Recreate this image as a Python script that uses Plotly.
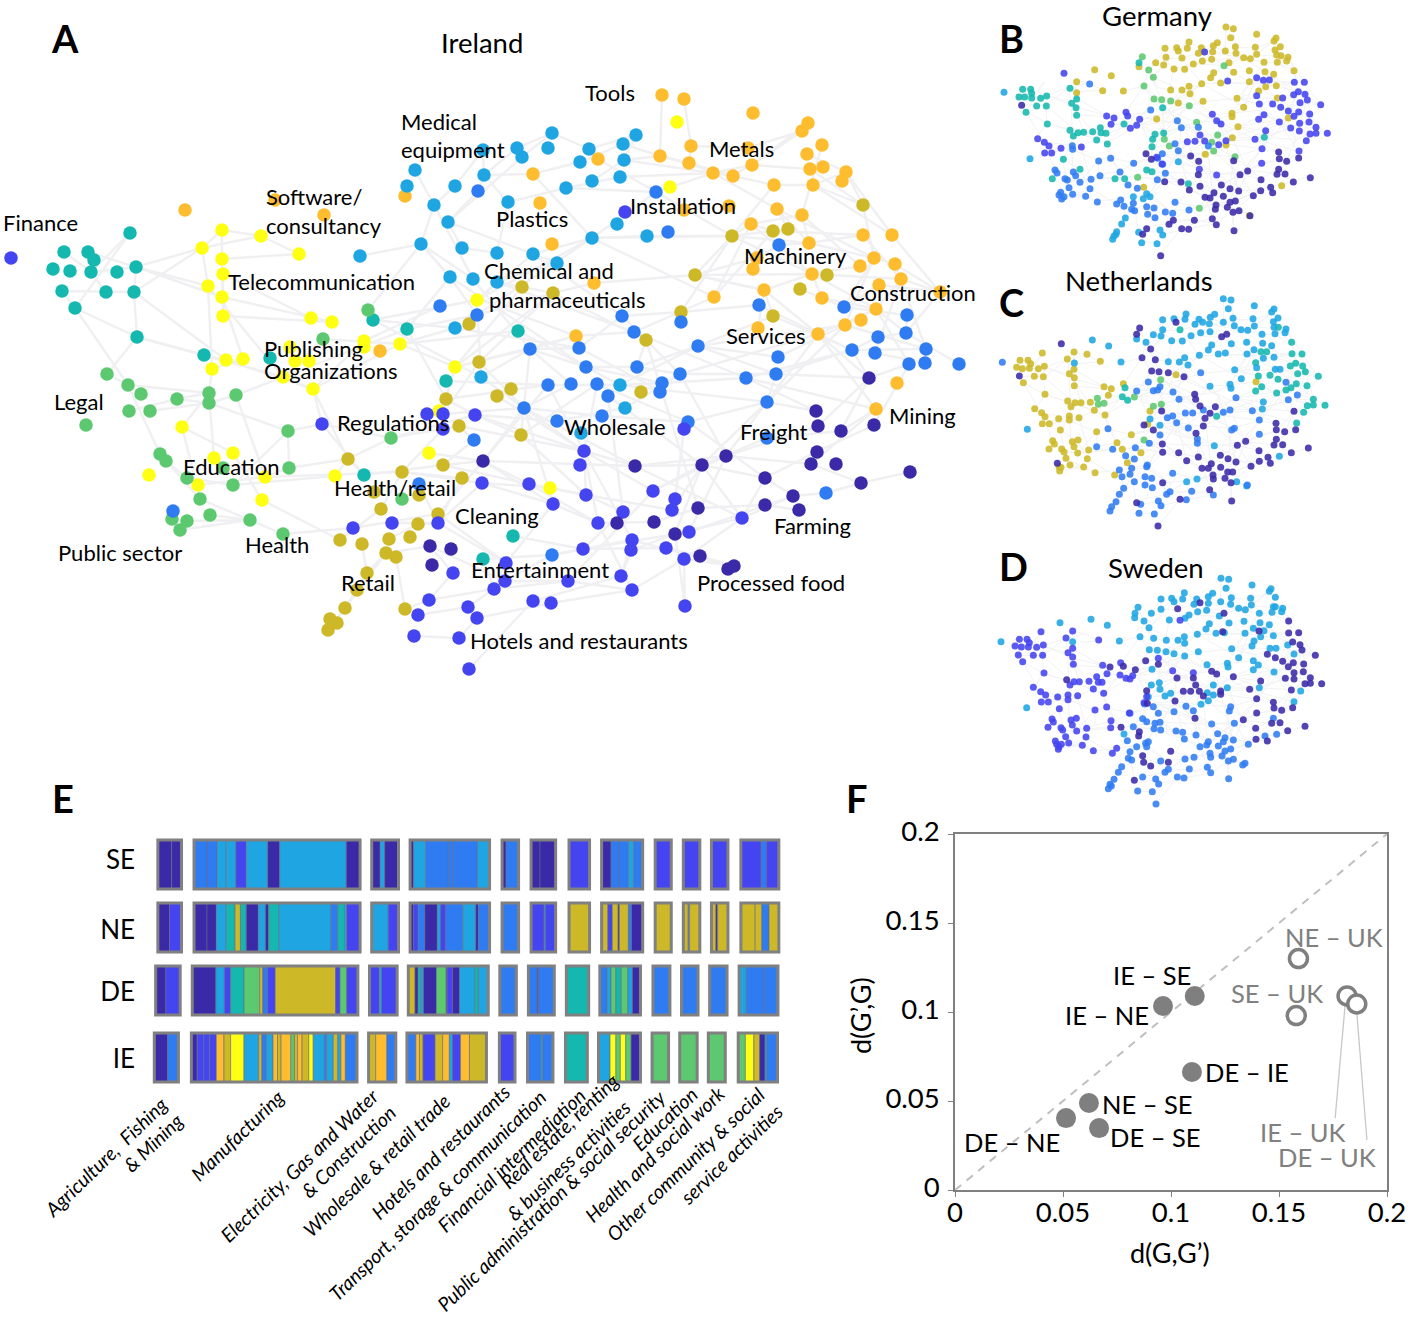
import plotly.graph_objects as go

W, H = 1411, 1323
FONT = "Lato"
COLORS = dict(d="#3A2AA8", i="#4444F0", b="#2F7CF2", s="#1FA6E2", t="#14B8AE",
              g="#5CC86F", m="#CDB828", o="#FDBD2F", y="#FFFF14")

# ---------- Panel A (Ireland): nodes by community
A_TEAL = [(130,233),(64,252),(88,252),(94,260),(53,269),(70,271),(91,272),(117,272),(136,267),(62,291),(106,292),(134,292),(75,308),(137,337),(204,355),(270,358),(373,320),(407,329),(446,381),(518,331),(364,475),(483,559),(513,536)]
A_ORANGE = [(185,210),(275,200),(324,215),(405,196),(380,351),(662,95),(684,99),(753,113),(808,123),(802,131),(822,145),(691,146),(748,148),(660,156),(689,163),(752,165),(807,154),(810,169),(823,167),(713,173),(733,176),(846,172),(842,181),(813,185),(774,185),(598,159),(533,174),(540,203),(552,244),(684,210),(729,206),(777,209),(802,215),(751,224),(809,243),(863,235),(892,235),(874,258),(860,266),(895,264),(753,269),(757,258),(812,274),(901,279),(879,285),(940,292),(764,290),(822,298),(714,297),(594,283),(876,309),(861,320),(845,325),(818,334),(758,328),(576,336),(897,383),(876,409)]
A_YELLOW = [(222,230),(202,248),(261,236),(299,254),(222,259),(223,274),(208,286),(222,297),(223,316),(311,318),(332,322),(364,341),(364,347),(400,344),(226,360),(243,359),(212,369),(290,347),(295,361),(309,361),(283,377),(455,367),(477,300),(677,122),(670,187),(313,389),(182,427),(233,453),(214,458),(149,475),(198,485),(265,477),(262,500),(335,476),(439,411),(429,453),(550,488)]
A_GREEN = [(368,310),(323,339),(107,374),(128,385),(141,394),(177,399),(209,393),(209,403),(236,395),(129,411),(150,411),(86,425),(288,431),(391,438),(160,454),(166,461),(289,468),(187,478),(223,468),(233,485),(200,499),(210,515),(250,520),(172,519),(187,521),(180,530),(283,534),(402,499)]
A_MUSTARD = [(469,324),(479,362),(863,205),(773,231),(788,229),(732,236),(827,275),(695,275),(800,289),(522,287),(553,293),(681,312),(773,316),(646,340),(446,399),(497,396),(511,389),(641,392),(521,435),(459,426),(348,459),(443,465),(402,472),(462,478),(374,492),(419,495),(381,509),(438,514),(418,524),(340,540),(362,544),(389,539),(410,537),(386,553),(396,557),(367,573),(357,590),(345,608),(405,609),(330,619),(337,623),(328,630)]
A_SKY = [(483,150),(415,170),(484,175),(407,186),(455,186),(434,205),(448,222),(421,244),(462,248),(360,256),(497,253),(450,277),(473,279),(497,282),(552,133),(548,148),(517,148),(522,157),(589,149),(580,162),(636,135),(623,144),(624,160),(620,177),(592,181),(566,188),(508,202),(617,224),(647,236),(592,238),(533,254),(557,263),(455,328),(481,377),(620,385),(625,408),(581,433)]
A_BLUE = [(478,191),(440,306),(477,315),(656,192),(668,232),(779,245),(759,305),(622,316),(681,322),(844,307),(907,315),(906,333),(878,337),(926,349),(852,350),(875,353),(909,364),(925,363),(959,364),(778,357),(698,346),(634,332),(530,349),(579,348),(586,367),(637,367),(680,374),(776,374),(746,378),(548,385),(571,384),(597,384),(608,396),(662,383),(660,392),(524,408),(602,416),(557,421),(688,422),(767,402),(767,438),(826,493),(474,440),(419,484),(173,511),(552,555)]
A_INDIGO = [(11,258),(625,212),(322,424),(427,414),(443,414),(475,415),(443,429),(482,483),(353,528),(392,523),(438,523),(453,573),(429,600),(494,589),(418,615),(468,607),(477,618),(414,636),(459,638),(469,669),(529,484),(584,451),(580,465),(586,495),(553,504),(653,491),(675,499),(672,510),(623,512),(598,523),(689,532),(742,518),(632,540),(631,550),(666,548),(684,559),(583,549),(506,563),(505,581),(568,581),(621,576),(632,590),(533,601),(551,603),(685,606),(684,429)]
A_DARK = [(869,378),(816,411),(818,426),(841,431),(874,425),(726,456),(702,465),(635,466),(817,452),(811,464),(836,464),(765,478),(910,472),(861,483),(793,496),(765,505),(799,510),(698,508),(654,522),(617,523),(675,534),(700,556),(728,569),(734,566),(483,461),(430,546),(451,549),(432,565)]

# Edges of the network, as chains of node positions
EDGE_CHAINS = [
 [(130,233),(91,272),(64,252)],[(130,233),(75,308),(62,291),(134,292),(136,267),(88,252)],
 [(106,292),(91,272),(136,267),(202,248),(134,292),(137,337),(75,308),(128,385)],[(137,337),(107,374),(128,385)],
 [(137,337),(204,355),(226,360),(134,292)],[(136,267),(208,286),(212,369),(243,359),(222,297),(136,267)],
 [(222,230),(202,248),(261,236),(222,230),(222,259),(299,254),(261,236)],[(222,259),(223,316),(223,274),(311,318)],
 [(202,248),(208,286),(283,377)],[(223,316),(332,322),(222,297)],[(204,355),(283,377),(313,389),(226,360)],
 [(137,337),(283,377),(323,339),(400,344),(313,389),(364,341),(440,306)],[(283,377),(407,329),(450,277),(421,244),(360,256)],
 [(368,310),(421,244),(473,279),(434,205),(421,244),(450,277),(477,315),(407,329)],[(373,320),(477,300),(481,377),(373,320),(455,328),(400,344),(469,324)],
 [(415,170),(434,205),(455,186),(483,150),(484,175),(478,191),(448,222),(462,248),(497,253),(508,202),(484,175),(517,148),(552,133),(589,149),(636,135),(624,160),(660,156),(689,163),(713,173),(752,165),(808,123)],
 [(484,175),(533,174),(580,162),(623,144),(660,156),(662,95)],[(684,99),(691,146),(689,163),(733,176),(774,185),(813,185),(846,172)],
 [(660,156),(733,176),(802,131),(752,165),(810,169),(863,205),(813,185),(892,235),(846,172),(807,154)],
 [(598,159),(656,192),(713,173),(777,209),(809,243),(863,235),(901,279),(940,292),(906,333),(959,364)],
 [(892,235),(940,292),(879,285),(844,307),(874,258),(863,205)],[(895,264),(926,349),(925,363),(875,353),(901,279)],
 [(773,231),(863,235),(773,231),(751,224),(802,215),(860,266),(812,274),(764,290),(818,334),(876,309),(845,325),(778,357),(698,346)],
 [(448,222),(533,254),(592,238),(647,236),(732,236),(812,274),(876,309),(909,364),(874,425),(816,452),(765,478)],
 [(477,315),(553,293),(594,283),(695,275),(764,290),(773,316),(698,346),(637,367),(586,367),(530,349),(481,377)],
 [(481,300),(576,336),(634,332),(714,297),(773,231)],[(455,367),(530,349),(579,348),(622,316),(681,312),(759,305),(818,334),(869,378),(818,426),(726,456)],
 [(446,399),(548,385),(620,385),(662,383),(746,378),(876,409),(841,431),(767,438),(702,465),(635,466),(483,461)],
 [(443,414),(524,408),(602,416),(688,422),(767,402),(845,325)],[(475,415),(557,421),(625,408),(680,374),(776,374),(852,350),(926,349)],
 [(459,426),(584,451),(635,466),(726,456),(811,464),(861,483),(910,472)],[(584,451),(653,491),(702,465),(765,478),(793,496),(826,493),(861,483)],
 [(483,461),(553,504),(598,523),(654,522),(698,508),(765,505),(799,510)],[(675,534),(742,518),(793,496)],
 [(583,549),(666,548),(700,556),(734,566),(684,559),(685,606),(675,534),(632,550),(621,576),(533,601),(469,669)],
 [(568,581),(494,589),(483,559),(552,555),(631,540),(732,566)],[(414,636),(459,638),(477,618),(551,603),(632,590),(684,559)],
 [(418,615),(468,607),(505,581),(552,555),(583,549),(623,512),(586,495),(550,488),(482,483),(438,523),(392,523)],
 [(353,528),(438,514),(483,461),(529,484),(586,495),(672,510),(702,465),(742,518)],[(340,540),(381,509),(402,472),(462,478),(438,523),(418,524),(389,539)],
 [(328,630),(345,608),(367,573),(386,553),(396,557),(405,609),(429,600),(453,573),(430,546)],[(362,544),(367,573),(357,590)],
 [(391,438),(348,459),(364,475),(443,465),(474,440),(459,426),(391,438),(322,424),(288,431),(289,468)],[(335,476),(348,459),(313,389),(322,424),(364,475)],
 [(128,385),(160,454),(200,499),(250,520),(283,534),(353,528)],[(129,411),(177,399),(209,403),(236,395),(283,377)],
 [(150,411),(209,403),(288,431),(233,485),(187,478),(166,461)],[(182,427),(233,453),(262,500),(340,540)],[(198,485),(265,477),(288,468),(348,459)],
 [(210,515),(250,520),(180,530),(172,519),(187,521),(250,520)],[(214,458),(209,393),(182,427),(200,499)],[(236,395),(265,477),(402,472)],[(233,485),(335,476)],
 [(212,369),(209,393),(177,399)],[(128,385),(209,393)],[(400,344),(455,367),(446,399),(443,429),(402,472)],
 [(443,414),(479,362),(553,293),(497,282),(477,300),(533,254),(557,263),(497,282)],
 [(522,287),(455,367),(576,336),(530,349),(521,435),(597,384),(584,451),(586,495)],[(571,384),(524,408),(553,504)],[(608,396),(623,512)],[(684,429),(675,499)],
 [(726,456),(653,491),(568,581)],[(758,328),(764,290),(695,275),(757,258),(779,245),(809,243)],[(714,297),(751,224),(732,236),(681,312)],
 [(622,316),(646,340),(637,367),(680,374)],[(774,185),(732,236),(788,229),(777,209)],[(800,289),(844,307),(907,315),(906,333),(878,337),(852,350)],
 [(446,381),(548,385),(483,461),(443,465)],[(400,344),(518,331),(620,385),(698,346),(776,374),(767,402),(702,465)],[(477,315),(592,238),(656,192)],
 [(407,329),(446,399),(475,415),(584,451)],[(497,282),(634,332),(746,378),(816,411)],[(533,254),(622,316),(680,374),(726,456)],[(553,293),(646,340),(698,508)],
 [(732,236),(809,243),(874,258),(845,325),(926,349)],[(695,275),(812,274),(901,279),(876,309),(906,333)],
 [(773,316),(852,350),(869,378),(841,431)],[(776,374),(869,378),(909,364)],[(746,378),(852,350),(818,334),(767,402),(816,411)],
 [(698,346),(845,325),(767,402),(702,465),(653,491)],[(680,374),(818,334),(876,409),(811,464)],
 [(620,385),(767,402),(726,456),(689,532)],[(597,384),(688,422),(765,478),(742,518)],[(608,396),(702,465),(675,534)],[(524,408),(635,466),(742,518),(684,559)],
 [(548,385),(584,451),(598,523),(632,590)],[(497,396),(584,451),(632,540),(621,576)],[(481,377),(584,451)],[(473,279),(530,349),(571,384)],
 [(450,277),(586,367),(662,383)],[(455,328),(579,348),(662,392)],[(477,300),(592,238),(732,236)],[(533,174),(592,238),(714,297)],
 [(566,188),(656,192),(732,236),(695,275)],[(508,202),(566,188),(620,177),(713,173)],[(552,133),(522,157),(448,222)],[(592,181),(624,160),(733,176)],
 [(553,293),(455,367),(446,399)],[(479,362),(524,408),(483,461),(429,453)],[(443,465),(529,484),(598,523),(553,504),(506,563)],[(438,514),(506,563),(494,589),(429,600)],
 [(430,546),(505,581),(568,581),(632,590)],[(402,472),(482,483),(553,504)],[(391,438),(475,415),(521,435),(586,495)],[(419,484),(438,523),(506,563)],
 [(513,536),(583,549),(689,532),(793,496)],[(345,608),(386,553),(430,546)],[(802,131),(748,148),(691,146)],[(863,205),(846,172)],
 [(777,209),(874,258),(895,264),(940,292)],[(822,145),(802,215),(809,243)],[(751,224),(812,274),(822,298),(876,309)],
]

# ---------- Panels B, C, D: nodes read in each panel's own frame
B_MUSTARD = [(708,81),(730,86),(800,103),(722,113),(852,123),(858,114),(736,140),(871,140),(796,142),(597,126),(525,145),(560,143),(565,153),(592,145),(634,143),(682,128),(670,137),(625,160),(640,155),(668,155),(706,153),(738,160),(800,163),(855,150),(860,165),(873,167),(894,172),(890,183),(576,174),(665,178),(637,183),(717,188),(761,173),(781,176),(822,187),(862,187),(528,172),(497,188),(521,195),(447,200),(610,192),(552,207),(584,208),(671,218),(662,233),(731,217),(778,212),(825,215),(851,223),(912,212),(635,251),(692,249),(778,245),(827,260),(859,257),(806,273),(597,259),(542,270),(576,270),(600,281),(400,273),(338,272),(314,209),(364,227),(260,245),(260,278),(565,309),(639,304),(741,295),(761,322),(862,294),(726,340),(726,350),(744,380),(727,413),(500,357),(895,354),(646,463),(708,435),(875,557),(778,647),(461,562)]
B_GREEN = [(457,170),(476,210),(490,232),(462,258),(492,297),(515,299),(542,303),(598,317),(702,197),(620,367),(683,405),(523,418),(538,438),(665,427),(671,453),(735,470),(443,532),(628,625)]
B_TEAL = [(447,188),(240,265),(122,268),(98,268),(125,280),(87,291),(104,291),(125,294),(152,295),(170,288),(140,318),(169,318),(108,337),(260,297),(245,310),(258,323),(260,346),(172,372),(240,391),(250,408),(264,398),(281,397),(308,395),(331,383),(320,420),(333,398),(348,400),(352,432),(402,372),(518,323),(470,510),(486,515),(495,403),(521,399),(488,418),(486,440),(220,478),(187,536),(270,508),(375,536),(404,536),(823,412),(595,551)]
B_SKY = [(42,277),(120,476),(565,485),(510,690),(380,695),(395,672),(406,654),(446,697),(378,703),(368,718),(372,708),(518,705),(455,728),(501,731),(470,581),(480,590),(460,596),(430,590)]
B_INDIGO = [(222,220),(713,243),(800,233),(820,241),(838,240),(644,156),(913,247),(943,247),(925,275),(911,284),(945,283),(800,287),(878,294),(808,312),(848,312),(930,308),(952,300),(992,314),(872,322),(822,344),(806,358),(895,333),(926,336),(912,349),(959,342),(868,366),(929,370),(957,366),(902,384),(978,382),(928,393),(960,402),(978,400),(1012,400),(949,422),(795,418),(827,392),(667,343),(680,362),(693,372),(592,425),(615,424),(644,423),(630,405),(686,434),(708,422),(816,446),(927,453),(815,490),(680,525),(628,508),(516,492),(500,472),(363,373),(350,348),(372,354),(408,337),(413,348),(449,358),(440,376),(421,385),(143,416),(163,427),(177,438),(213,445),(274,441),(164,459),(185,459)]
B_DARK = [(95,316),(468,461),(484,478),(602,468),(626,484),(731,482),(625,524),(866,456),(868,476),(890,484),(926,474),(750,524),(773,513),(861,523),(885,522),(866,508),(813,539),(961,533),(910,546),(812,572),(842,562),(848,578),(790,587),(524,545),(573,546),(598,570),(630,559),(694,555),(720,566),(746,573),(672,578),(645,592),(660,594),(700,589),(736,603),(720,607),(678,615),(676,628),(712,622),(747,632),(729,637),(667,656),(679,674),(732,692),(613,661),(575,686),(596,688),(550,661),(537,673),(470,686),(458,703),(512,767),(780,647)]
B_BLUE = [(299,252),(482,330),(562,362),(574,383),(625,382),(247,437),(248,448),(326,483),(362,475),(431,490),(390,516),(414,555),(442,565),(502,539),(526,520),(518,493),(565,452),(555,431),(517,461),(503,475),(212,577),(207,585),(215,597),(222,590),(248,583),(287,589),(322,606),(300,566),(303,538),(330,527),(270,547),(232,540),(225,536),(237,563),(250,516),(257,527),(195,510),(201,519),(392,600),(380,612),(402,619),(430,610),(425,628),(434,632),(470,620),(492,624),(473,643),(495,653),(526,636),(548,640),(555,607),(597,630),(655,438)]

C_MUSTARD = [(90,286),(114,286),(122,296),(157,264),(252,261),(232,282),(291,268),(331,289),(80,307),(97,311),(118,310),(145,311),(163,304),(133,334),(160,335),(100,353),(238,326),(252,313),(253,338),(253,362),(165,388),(342,365),(364,371),(355,391),(301,412),(233,408),(243,425),(255,413),(273,413),(313,436),(345,450),(134,431),(155,443),(165,455),(157,476),(178,476),(206,461),(238,453),(238,465),(267,458),(211,495),(320,500),(424,509),(188,527),(193,537),(177,552),(247,530),(264,525),(252,545),(215,552),(222,561),(263,564),(296,555),(228,580),(292,581),(240,600),(207,605),(213,607),(209,618),(281,606),(315,623),(374,630),(381,533),(397,553),(412,593),(453,563),(400,356),(558,329),(473,478),(798,350),(480,438)]
C_GREEN = [(322,400),(325,418),(342,415),(433,396),(512,344),(490,424),(514,418),(462,525)]
C_TEAL = [(570,194),(413,406),(397,395),(405,368),(865,187),(905,232),(813,260),(830,260),(906,266),(936,267),(797,293),(917,295),(938,303),(901,303),(946,320),(923,326),(840,331),(805,333),(864,343),(985,334),(919,356),(951,362),(815,365),(797,378),(860,384),(903,368),(888,375),(970,403),(952,422),(970,420),(1005,421),(941,442),(920,474),(680,454)]
C_SKY = [(700,101),(723,105),(793,122),(715,131),(852,132),(845,141),(729,160),(864,159),(789,161),(588,147),(518,164),(552,161),(585,163),(627,163),(674,148),(661,157),(638,172),(615,178),(658,176),(700,172),(733,182),(793,183),(850,170),(852,187),(888,192),(885,203),(753,194),(773,196),(518,194),(490,209),(513,213),(440,222),(603,212),(632,203),(660,200),(724,236),(816,208),(770,232),(818,235),(845,242),(855,206),(468,232),(545,227),(577,228),(655,255),(665,240),(628,271),(685,267),(706,264),(771,267),(792,254),(820,280),(852,277),(584,278),(535,290),(568,291),(594,300),(734,314),(754,341),(307,225),(356,243),(393,291),(253,294),(660,364),(720,358),(723,370),(820,411),(817,432),(800,308),(856,313),(870,313),(480,462),(510,481),(590,650),(621,642),(673,542),(868,574),(770,663),(740,650),(112,493)]
C_DARK = [(449,189),(440,208),(558,172),(695,215),(710,208),(214,236),(482,252),(456,278),(496,284),(485,318),(507,320),(535,323),(582,335),(88,333),(202,595),(614,388),(617,403),(630,423),(676,425),(660,445),(645,460),(515,438),(912,439),(858,475),(859,494),(884,500),(917,494),(618,505),(640,483),(767,529),(742,541),(859,523),(852,540),(878,539),(807,557),(955,549),(904,563),(808,589),(834,577),(841,595),(783,604),(517,537),(518,562),(566,563),(590,587),(625,576),(691,571),(714,581),(738,591),(664,596),(636,610),(655,610),(692,607),(713,621),(728,621),(669,630),(670,642),(705,640),(723,653),(659,674),(725,708),(570,703),(518,653),(440,713),(504,783),(462,480),(490,495)]
C_BLUE = [(37,292),(632,323),(475,351),(490,377),(503,375),(510,365),(549,381),(567,403),(586,444),(608,444),(738,398),(640,435),(700,442),(720,435),(787,437),(808,465),(808,508),(733,490),(725,495),(895,404),(922,390),(888,352),(548,453),(532,458),(560,473),(595,489),(510,510),(622,522),(622,535),(440,378),(478,535),(354,491),(320,545),(368,553),(436,548),(407,572),(433,582),(472,600),(470,605),(425,610),(388,615),(396,635),(420,628),(433,650),(465,635),(485,640),(465,660),(487,668),(548,625),(401,670),(388,688),(378,710),(365,725),(360,738),(447,745),(493,747),(540,680),(530,688),(605,679),(670,690),(505,708),(513,722),(452,718),(589,704),(772,660)]

D_INDIGO = [(153,245),(248,243),(228,264),(88,268),(111,268),(118,278),(326,270),(75,288),(94,291),(115,291),(140,292),(160,285),(85,315),(130,316),(158,316),(98,335),(234,308),(248,295),(248,321),(250,343),(162,369),(338,346),(351,371),(240,405),(252,395),(268,395),(297,394),(320,380),(310,417),(325,397),(336,397),(341,430),(130,412),(152,425),(167,435),(154,456),(175,456),(203,441),(234,435),(234,449),(263,437),(208,476),(315,480),(350,471),(186,507),(190,516),(174,532),(243,510),(259,505),(247,525),(213,533),(218,540),(260,543),(290,535),(227,560),(288,561),(236,579),(277,586),(310,602),(196,573),(200,583),(207,590),(214,583),(205,598),(392,338),(420,387),(408,385),(390,375),(428,377),(548,362),(610,368),(570,211),(505,325),(363,512),(362,533),(418,489),(380,595),(367,610),(462,458),(470,440)]
D_DARK = [(563,176),(630,158),(702,190),(698,245),(807,243),(896,213),(896,249),(926,248),(908,276),(930,284),(936,300),(976,316),(832,313),(856,323),(878,334),(910,338),(895,350),(941,342),(940,365),(912,368),(886,385),(961,383),(912,387),(945,401),(961,400),(995,401),(904,420),(779,418),(812,393),(665,364),(680,372),(730,380),(467,332),(505,343),(360,351),(400,349),(470,422),(561,384),(610,384),(617,405),(580,424),(602,424),(628,424),(640,438),(692,423),(692,433),(555,453),(800,446),(850,457),(852,474),(875,481),(908,473),(800,489),(760,509),(615,505),(393,532),(448,545),(446,558),(845,520),(870,518),(797,535),(945,529),(893,542),(798,568),(832,573),(458,617),(542,604),(461,637),(482,648),(535,637),(433,691),(230,389),(472,460),(436,359)]
D_SKY = [(693,85),(716,88),(786,105),(708,115),(838,124),(843,116),(724,143),(856,142),(782,145),(583,128),(513,147),(545,145),(552,155),(578,147),(620,147),(668,130),(655,140),(612,163),(655,160),(692,155),(722,163),(746,175),(766,179),(784,165),(808,190),(846,187),(850,170),(856,170),(878,175),(875,185),(444,172),(435,190),(434,203),(484,190),(513,178),(462,213),(477,233),(450,260),(597,195),(623,185),(650,181),(688,198),(717,219),(762,214),(810,218),(838,224),(790,235),(658,221),(648,237),(538,210),(585,205),(822,242),(812,260),(850,257),(840,295),(858,295),(786,288),(792,273),(622,253),(678,250),(703,248),(765,250),(491,265),(529,271),(564,271),(583,260),(584,280),(478,299),(502,301),(528,305),(552,311),(584,318),(625,305),(725,296),(746,323),(790,332),(805,345),(790,359),(852,366),(651,344),(712,340),(714,351),(388,273),(210,218),(303,208),(352,226),(248,275),(33,275),(110,473),(484,405),(508,398),(510,418),(525,438),(542,430),(475,440),(652,428),(670,405),(670,435),(712,413),(655,452),(633,463),(808,413),(912,312),(893,285),(932,423),(912,455),(486,358),(402,552)]
D_BLUE = [(588,469),(552,485),(610,482),(722,470),(718,483),(850,505),(733,520),(665,522),(558,543),(578,547),(618,555),(583,567),(683,551),(705,563),(730,570),(700,575),(775,583),(630,590),(650,585),(655,575),(685,588),(722,597),(705,603),(730,628),(715,633),(696,618),(660,610),(662,622),(612,622),(585,627),(652,652),(662,668),(598,657),(716,686),(825,558),(860,553),(765,640),(758,645),(562,681),(582,684),(458,681),(525,667),(535,658),(497,687),(506,702),(443,723),(487,725),(498,762),(512,633),(467,580),(475,575),(430,530),(412,572),(440,590),(470,590),(420,605),(415,625),(425,630),(395,650),(385,667),(372,688),(360,703),(355,716),(364,708),(492,536),(512,540),(510,517),(495,520),(458,506),(470,515),(505,490),(490,470),(464,462),(420,490)]

# ---------- Panel E: stripes per country (code, start, end)
COUNTRIES = ["SE","NE","DE","IE"]
LABEL_ROWS = [860,930,992,1059]
SE_FRAMES = [(152,205),(233,605),(631,691),(717,895),(923,960),(988,1043),(1073,1119),(1146,1238),(1266,1302),(1329,1366),(1392,1429),(1458,1543)]
NE_FRAMES = [(152,205),(233,605),(631,691),(717,895),(923,960),(988,1043),(1073,1119),(1146,1238),(1266,1302),(1329,1366),(1392,1429),(1458,1543)]
DE_FRAMES = [(147,202),(229,600),(626,688),(713,892),(918,955),(982,1040),(1067,1117),(1142,1233),(1261,1299),(1325,1362),(1388,1427),(1454,1541)]
IE_FRAMES = [(144,198),(227,598),(624,685),(710,888),(917,952),(980,1037),(1065,1114),(1139,1233),(1259,1296),(1321,1360),(1385,1423),(1452,1540)]
SE_STRIPES = [("d",152,183),("d",183,205),("b",233,262),("b",262,285),("s",285,305),("s",305,327),("i",327,350),("s",350,398),("d",398,425),("s",425,574),("d",574,605),
 ("d",631,650),("s",650,660),("d",660,691),("d",717,725),("s",725,752),("b",752,803),("b",803,812),("b",812,868),("s",868,895),("d",923,932),("b",932,960),("d",988,1008),("d",1008,1043),
 ("i",1073,1119),("d",1146,1167),("b",1167,1185),("b",1185,1206),("s",1206,1218),("b",1218,1238),("i",1266,1302),("i",1329,1366),("i",1392,1429),("i",1458,1503),("b",1503,1515),("i",1515,1543)]
NE_STRIPES = [("d",152,178),("i",178,205),("d",233,262),("d",262,283),("s",283,305),("t",305,325),("m",325,337),("t",337,350),("d",350,377),("s",377,393),("d",393,400),("t",400,423),("s",423,540),("b",540,555),("t",555,570),("s",570,575),("i",575,605),
 ("s",631,668),("i",668,691),("d",717,725),("i",725,735),("b",735,750),("d",750,778),("s",778,785),("i",785,797),("b",797,835),("s",835,864),("d",864,870),("b",870,895),("b",923,960),("i",988,1017),("s",1017,1020),("i",1020,1043),
 ("m",1073,1119),("m",1146,1160),("i",1160,1170),("m",1170,1183),("d",1183,1186),("m",1186,1206),("b",1206,1213),("d",1213,1238),("m",1266,1302),("m",1329,1340),("b",1340,1343),("m",1343,1366),("m",1392,1402),("d",1402,1406),("m",1406,1429),("m",1458,1490),("m",1490,1505),("b",1505,1521),("m",1521,1543)]
DE_STRIPES = [("d",147,170),("i",170,202),("d",229,282),("s",282,301),("i",301,315),("t",315,345),("g",345,380),("m",380,387),("b",387,398),("i",398,415),("m",415,550),("i",550,560),("g",560,575),("i",575,600),
 ("i",626,648),("s",648,653),("i",653,688),("m",713,728),("d",728,735),("t",735,741),("s",741,747),("d",747,776),("g",776,798),("d",798,800),("i",800,812),("d",812,828),("s",828,862),("t",862,870),("s",870,892),
 ("b",918,955),("b",982,1002),("d",1002,1005),("b",1005,1040),("t",1067,1117),("b",1142,1158),("s",1158,1167),("g",1167,1178),("t",1178,1190),("g",1190,1205),("s",1205,1215),("d",1215,1233),("b",1261,1299),("b",1325,1362),("b",1388,1427),("s",1454,1470),("b",1470,1510),("b",1510,1541)]
IE_STRIPES = [("d",144,174),("b",174,198),("d",227,240),("i",240,255),("i",255,268),("i",268,283),("o",283,300),("m",300,315),("y",315,345),("s",345,378),("m",378,385),("b",385,395),("s",395,410),("o",410,420),("m",420,428),("o",428,450),("g",450,458),("m",458,465),("o",465,475),("m",475,490),("y",490,500),("s",500,525),("b",525,530),("s",530,545),("m",545,555),("s",555,562),("o",562,572),("b",572,598),
 ("m",624,640),("o",640,665),("b",665,685),("b",710,730),("o",730,738),("m",738,746),("i",746,773),("m",773,790),("o",790,805),("s",805,812),("i",812,830),("o",830,850),("m",850,888),
 ("i",917,952),("b",980,1010),("s",1010,1014),("b",1014,1037),("t",1065,1114),("s",1139,1165),("y",1165,1178),("g",1178,1188),("y",1188,1200),("g",1200,1212),("d",1212,1233),("g",1259,1296),("g",1321,1360),("g",1385,1423),("g",1452,1468),("y",1468,1487),("m",1487,1500),("d",1500,1512),("s",1512,1516),("b",1516,1540)]
ROW_TOPS = [840,903,966,1033]
ROW_HEIGHT = 49

# ---------- Panel F
F_LABELS = ["DE – NE","NE – SE","DE – SE","DE – IE","IE – NE","IE – SE"]
F_X = [0.0514,0.062,0.0667,0.1097,0.0963,0.111]
F_Y = [0.0404,0.0489,0.0348,0.0663,0.1034,0.109]
UK_LABELS = ["NE – UK","SE – UK","IE – UK","DE – UK"]
UK_X = [0.159,0.158,0.1815,0.186]
UK_Y = [0.130,0.098,0.109,0.1045]
TICKS = [0,0.05,0.1,0.15,0.2]
TICK_TEXT = ["0","0.05","0.1","0.15","0.2"]
LEADER_X = [0.1806,0.176,None,0.1861,0.1907]
LEADER_Y = [0.1039,0.0404,None,0.0983,0.0281]

# ---------- Text
A_TEXT = [("Finance",1,222),("Tools",583,92),("Medical",399,121),("equipment",399,149),("Software/",264,196),("consultancy",264,225),("Metals",707,148),("Plastics",494,218),("Installation",628,205),("Telecommunication",226,281),("Chemical and",482,270),("pharmaceuticals",487,299),("Machinery",742,255),("Construction",848,292),("Services",724,335),("Publishing",262,348),("Organizations",262,370),("Legal",52,401),("Regulations",335,422),("Wholesale",562,426),("Freight",738,431),("Mining",887,415),("Education",181,466),("Health/retail",332,487),("Cleaning",453,515),("Farming",772,525),("Public sector",56,552),("Health",243,544),("Retail",339,582),("Entertainment",469,569),("Processed food",695,582),("Hotels and restaurants",468,640)]
TITLES = [("Ireland",482,42),("Germany",1157,15),("Netherlands",1139,280),("Sweden",1156,567)]
LETTERS = [("A",65,38),("B",1011,38),("C",1011,302),("D",1013,566),("E",63,798),("F",857,798)]
ROT_TEXT = [("Agriculture,  Fishing",105,1157),("& Mining",153,1142),("Manufacturing",237,1135),("Electricity, Gas and Water",299,1165),("& Construction",348,1151),("Wholesale & retail trade",376,1165),("Hotels and restaurants",440,1152),("Transport, storage & communication",437,1195),("Financial intermediation",511,1160),("Real estate, renting",559,1131),("& business activities",568,1160),("Public administration & social security",551,1200),("Education",664,1119),("Health and social work",654,1154),("Other community & social",685,1164),("service activities",731,1154)]
F_TEXT = [("IE – SE",1152,975),("IE – NE",1107,1015),("DE – IE",1247,1072),("NE – SE",1147,1104),("DE – SE",1155,1137),("DE – NE",1012,1142)]
UK_TEXT = [("NE – UK",1334,937),("SE – UK",1277,993),("IE – UK",1302,1132),("DE – UK",1327,1157)]
AXIS_TEXT = [("d(G,G’)",1170,1252,0),("d(G’,G)",860,1016,-90)]

fig = go.Figure()

def edge_xy():
    xs, ys = [], []
    for ch in EDGE_CHAINS:
        xs += [p[0] for p in ch] + [None]
        ys += [p[1] for p in ch] + [None]
    return xs, ys

def nodes(pts, code, xa, ya, size, opacity=1.0):
    fig.add_trace(go.Scatter(x=[p[0] for p in pts], y=[p[1] for p in pts], mode="markers", xaxis=xa, yaxis=ya,
                             marker=dict(color=COLORS[code], size=size, line=dict(width=0), opacity=opacity),
                             showlegend=False, hoverinfo="skip"))

ex, ey = edge_xy()
fig.add_trace(go.Scatter(x=ex, y=ey, mode="lines", line=dict(color="#F0F0F2", width=2.4), xaxis="x", yaxis="y", showlegend=False, hoverinfo="skip"))
for pts, code in [(A_TEAL,"t"),(A_ORANGE,"o"),(A_YELLOW,"y"),(A_GREEN,"g"),(A_MUSTARD,"m"),(A_SKY,"s"),(A_BLUE,"b"),(A_INDIGO,"i"),(A_DARK,"d")]:
    nodes(pts, code, "x", "y", 13.5)

# Panels B-D: edges share the coordinates of panel A, drawn on axes beneath the nodes
for n in (2, 3, 4):
    fig.add_trace(go.Scatter(x=ex, y=ey, mode="lines", line=dict(color="#F3F3F5", width=1.0), xaxis=f"x{n}", yaxis=f"y{n}", showlegend=False, hoverinfo="skip"))
for pts, code in [(B_MUSTARD,"m"),(B_GREEN,"g"),(B_TEAL,"t"),(B_SKY,"s"),(B_BLUE,"b"),(B_INDIGO,"i"),(B_DARK,"d")]:
    nodes(pts, code, "x5", "y5", 7, 0.88)
for pts, code in [(C_MUSTARD,"m"),(C_GREEN,"g"),(C_TEAL,"t"),(C_SKY,"s"),(C_BLUE,"b"),(C_DARK,"d")]:
    nodes(pts, code, "x6", "y6", 7, 0.88)
for pts, code in [(D_SKY,"s"),(D_BLUE,"b"),(D_INDIGO,"i"),(D_DARK,"d")]:
    nodes(pts, code, "x7", "y7", 7, 0.88)

# Panel E
for frames, stripes, top in zip([SE_FRAMES,NE_FRAMES,DE_FRAMES,IE_FRAMES],[SE_STRIPES,NE_STRIPES,DE_STRIPES,IE_STRIPES],ROW_TOPS):
    yc = top + ROW_HEIGHT/2
    fig.add_trace(go.Bar(orientation="h", x=[s[2]-s[1] for s in stripes], base=[s[1] for s in stripes], y=[yc]*len(stripes),
                         width=ROW_HEIGHT, marker=dict(color=[COLORS[s[0]] for s in stripes], line=dict(color="rgba(105,105,125,0.75)", width=0.8)),
                         xaxis="x8", yaxis="y8", showlegend=False, hoverinfo="skip"))
    fig.add_trace(go.Bar(orientation="h", x=[f[1]-f[0] for f in frames], base=[f[0] for f in frames], y=[yc]*len(frames),
                         width=ROW_HEIGHT, marker=dict(color="rgba(0,0,0,0)", line=dict(color="#808080", width=3)),
                         xaxis="x8", yaxis="y8", showlegend=False, hoverinfo="skip"))

# Panel F
fig.add_trace(go.Scatter(x=[0,0.2], y=[0,0.2], mode="lines", line=dict(color="#BFBFBF", width=2, dash="8px,7px"), xaxis="x9", yaxis="y9", showlegend=False, hoverinfo="skip"))
fig.add_trace(go.Scatter(x=LEADER_X, y=LEADER_Y, mode="lines", line=dict(color="#C8C8C8", width=1.3), xaxis="x9", yaxis="y9", showlegend=False, hoverinfo="skip"))
fig.add_trace(go.Scatter(x=F_X, y=F_Y, mode="markers", text=F_LABELS, marker=dict(color="#7F7F7F", size=20), xaxis="x9", yaxis="y9", showlegend=False))
fig.add_trace(go.Scatter(x=UK_X, y=UK_Y, mode="markers", text=UK_LABELS, marker=dict(color="white", size=18, line=dict(color="#7F7F7F", width=3.5)), xaxis="x9", yaxis="y9", showlegend=False))

def note(t, x, y, size, anchor="center", color="black", **kw):
    return dict(text=t, x=x, y=y, xref="x", yref="y", xanchor=anchor, yanchor="middle", showarrow=False,
                font=dict(family=FONT, size=size, color=color), **kw)

ann = []
ann += [note(t, x, y, 22, "left") for t, x, y in A_TEXT]
ann += [note(t, x, y, 27.5) for t, x, y in TITLES]
ann += [note(f"<b>{t}</b>", x, y, 38) for t, x, y in LETTERS]
ann += [note(f"<i>{t}</i>", x, y, 19.5, textangle=-44) for t, x, y in ROT_TEXT]
ann += [note(t, x, y, 25.5) for t, x, y in F_TEXT]
ann += [note(t, x, y, 25.5, color="#808080") for t, x, y in UK_TEXT]
ann += [note(t, x, y, 27, textangle=a) for t, x, y, a in AXIS_TEXT]

def dom_x(l, r): return [l/W, r/W]
def dom_y(t, b): return [1-b/H, 1-t/H]
hidden = dict(visible=False, showgrid=False, zeroline=False, fixedrange=True, automargin=False)

layout = dict(width=W, height=H, autosize=False, margin=dict(l=0, r=0, t=0, b=0, pad=0, autoexpand=False), paper_bgcolor="white", plot_bgcolor="rgba(0,0,0,0)",
              showlegend=False, barmode="overlay", font=dict(family=FONT), annotations=ann,
              xaxis=dict(hidden, domain=[0,1], range=[0,W]), yaxis=dict(hidden, domain=[0,1], range=[H,0]),
              xaxis5=dict(hidden, domain=dom_x(990,1340), range=[0,1050], anchor="y5"), yaxis5=dict(hidden, domain=dom_y(0,260), range=[780,0], anchor="x5"),
              xaxis6=dict(hidden, domain=dom_x(990,1340), range=[0,1050], anchor="y6"), yaxis6=dict(hidden, domain=dom_y(265,535), range=[810,0], anchor="x6"),
              xaxis7=dict(hidden, domain=dom_x(990,1340), range=[0,1050], anchor="y7"), yaxis7=dict(hidden, domain=dom_y(550,810), range=[780,0], anchor="x7"),
              xaxis2=dict(hidden, domain=dom_x(1000.2,1341), range=[0,1000], anchor="y2"), yaxis2=dict(hidden, domain=dom_y(13.1,267), range=[700,60], anchor="x2"),
              xaxis3=dict(hidden, domain=dom_x(998.3,1339), range=[0,1000], anchor="y3"), yaxis3=dict(hidden, domain=dom_y(285.2,538.3), range=[700,60], anchor="x3"),
              xaxis4=dict(hidden, domain=dom_x(997.3,1335.3), range=[0,1000], anchor="y4"), yaxis4=dict(hidden, domain=dom_y(564.5,816.2), range=[700,60], anchor="x4"),
              xaxis8=dict(domain=dom_x(136,790), range=[103,1568], anchor="y8", visible=False, fixedrange=True),
              yaxis8=dict(domain=dom_y(830,1092), range=[1092,830], anchor="x8", showgrid=False, zeroline=False, showline=False, ticks="",
                          tickvals=LABEL_ROWS, ticktext=COUNTRIES, tickfont=dict(family=FONT, size=26, color="black"), fixedrange=True),
              xaxis9=dict(domain=dom_x(955,1387), range=[0,0.2], anchor="y9", tickvals=TICKS, ticktext=TICK_TEXT, ticks="outside", ticklen=5, tickcolor="#808080", ticklabelstandoff=-8,
                          showline=True, linecolor="#808080", linewidth=1.5, mirror=True, showgrid=False, zeroline=False, tickfont=dict(family=FONT, size=27.5, color="black"), fixedrange=True),
              yaxis9=dict(domain=dom_y(834,1190), range=[0,0.2], anchor="x9", tickvals=TICKS, ticktext=TICK_TEXT, ticks="outside", ticklen=5, tickcolor="#808080", ticklabelstandoff=3, ticklabelshift=-3,
                          showline=True, linecolor="#808080", linewidth=1.5, mirror=True, showgrid=False, zeroline=False, tickfont=dict(family=FONT, size=27.5, color="black"), fixedrange=True))
fig.update_layout(**layout)
fig.write_html("out.html", config=dict(displayModeBar=False), post_script="document.body.style.margin='0';document.body.style.overflow='hidden';")
